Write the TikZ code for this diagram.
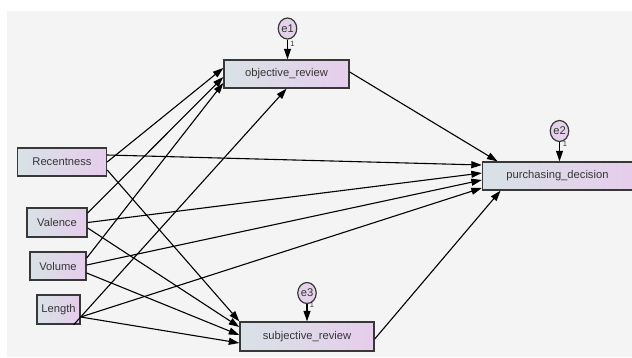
\documentclass[tikz,border=0pt]{standalone}
\usepackage{fontspec}
\setmainfont{Liberation Sans}
\usetikzlibrary{arrows.meta}
\definecolor{bgc}{HTML}{F4F4F4}
\definecolor{boxl}{HTML}{D8E2E6}
\definecolor{boxr}{HTML}{E6CDEC}
\definecolor{edgec}{HTML}{383838}
\definecolor{txtc}{HTML}{363636}
\definecolor{errc}{HTML}{E4D2EA}
\tikzset{
  varbox/.style={draw=edgec, line width=1.4pt, left color=boxl, right color=boxr,
    inner sep=0pt, text=txtc, font=\fontsize{11.2}{13}\selectfont},
  errnode/.style={ellipse, draw=edgec, line width=1.2pt, fill=errc, inner sep=0pt,
    minimum width=18.5pt, minimum height=21pt, text=txtc, font=\fontsize{11.2}{13}\selectfont},
  path/.style={draw=black, line width=1.1pt, -{Triangle[length=10.5pt,width=7pt]}},
  onelbl/.style={font=\fontsize{7.5}{8}\selectfont, text=txtc, inner sep=0pt}
}
\usetikzlibrary{shapes.geometric}
\begin{document}
\begin{tikzpicture}[x=1pt,y=-1pt]
\useasboundingbox (0,0) rectangle (632,357);
\fill[bgc] (7,11) rectangle (632,357);
% endogenous boxes
\node[varbox, minimum width=125pt, minimum height=28pt] (obj) at (286.5,74) {objective\_review};
\node[varbox, minimum width=150pt, minimum height=28pt] (pur) at (557.5,176) {purchasing\_decision};
\node[varbox, minimum width=134pt, minimum height=29pt] (sub) at (307,336.5) {subjective\_review};
% exogenous boxes
\node[varbox, minimum width=89pt, minimum height=28pt] (rec) at (62,162) {Recentness};
\node[varbox, minimum width=60pt, minimum height=29pt] (val) at (57,222.5) {Valence};
\node[varbox, minimum width=56pt, minimum height=28pt] (vol) at (58,266) {Volume};
\node[varbox, minimum width=43pt, minimum height=29pt] (len) at (58.5,309.5) {Length};
% error terms
\node[errnode] (e1) at (287.5,28.5) {e1};
\node[errnode] (e2) at (559.5,131) {e2};
\node[errnode] (e3) at (307,293) {e3};
\draw[path] (e1.south) -- (e1.south |- obj.north);
\draw[path] (e2.south) -- (e2.south |- pur.north);
\draw[path] (e3.south) -- (e3.south |- sub.north);
\node[onelbl] (o1) at (292.5,43.5) {1};
\node[onelbl] (o2) at (565,143.5) {1};
\node[onelbl] (o3) at (312,304.5) {1};
% Recentness
\draw[path] (rec.east) -- ([yshift=6pt]obj.west);
\draw[path] ([yshift=7pt]rec.east) -- ([yshift=11pt]pur.west);
\draw[path] ([yshift=-8pt]rec.east) -- (sub.north west);
% Valence
\draw[path] ([yshift=9.5pt]val.east) -- ([yshift=-3pt]obj.west);
\draw[path] (val.east) -- ([yshift=3pt]pur.west);
\draw[path] ([yshift=-5.5pt]val.east) -- ([yshift=9.5pt]sub.west);
% Volume
\draw[path] ([yshift=8pt]vol.east) -- ([yshift=-9pt]obj.west);
\draw[path] ([yshift=1pt]vol.east) -- ([yshift=-4pt]pur.west);
\draw[path] ([yshift=-7pt]vol.east) -- ([yshift=1.5pt]sub.west);
% Length
\draw[path] ([xshift=-7pt]len.south east) -- (obj.south);
\draw[path] ([yshift=-7.5pt]len.east) -- ([yshift=-12pt]pur.west);
\draw[path] ([yshift=-7.5pt]len.east) -- ([yshift=-6.5pt]sub.west);
% mediators
\draw[path] ([yshift=2pt]obj.east) -- ([xshift=-60pt]pur.north);
\draw[path] ([yshift=-2.5pt]sub.east) -- ([xshift=-57pt]pur.south);
\end{tikzpicture}
\end{document}
